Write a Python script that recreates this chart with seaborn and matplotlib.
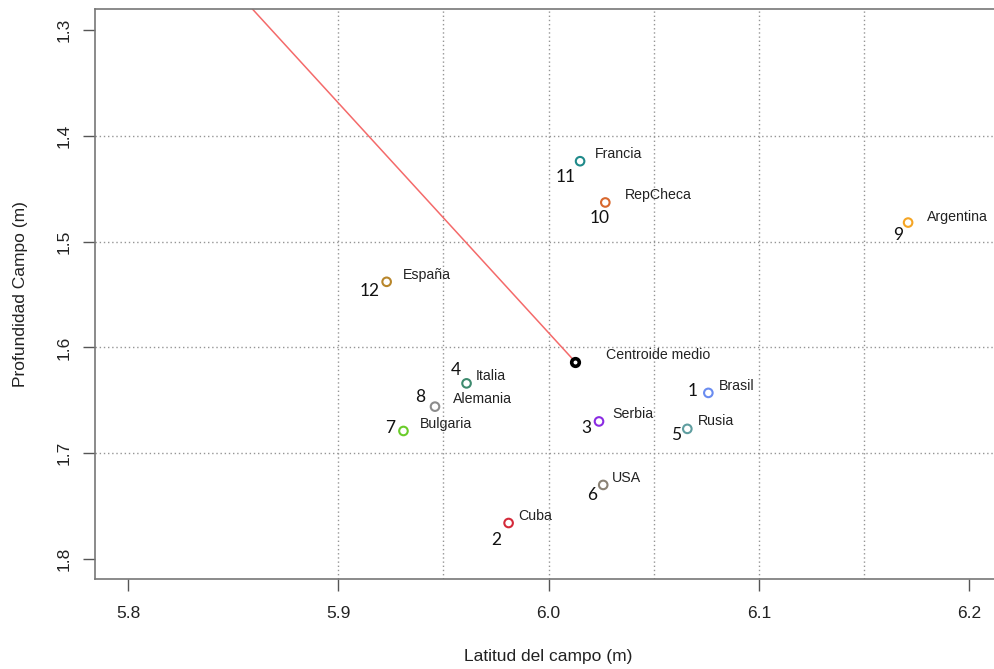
import pandas as pd
import seaborn as sns
import matplotlib.pyplot as plt

# datos
paises = ['Brasil', 'Cuba', 'Serbia', 'Italia', 'Rusia', 'USA',
          'Bulgaria', 'Alemania', 'Argentina', 'RepCheca', 'Francia', 'España']
numeros = ['1', '2', '3', '4', '5', '6', '7', '8', '9', '10', '11', '12']
latitud = [6.076, 5.981, 6.024, 5.961, 6.066, 6.026,
           5.931, 5.946, 6.171, 6.027, 6.015, 5.923]
profundidad = [1.643, 1.766, 1.670, 1.634, 1.677, 1.730,
               1.679, 1.656, 1.482, 1.463, 1.424, 1.538]
colores = ['#6a8cf0', '#d42a3a', '#8a2be2', '#3d8a6e', '#5f9ea0', '#8a8275',
           '#6acc2a', '#8c8c8c', '#f5a524', '#d8682e', '#1f8a8a', '#b8862b']

centroide_x = 6.0126
centroide_y = 1.6135
linea_x = [6.0126, 5.8453]
linea_y = [1.6135, 1.25]

# desplazamientos de las etiquetas (pixeles, y hacia abajo)
off_nombre = [(11, -7), (10, -7), (13, -7), (9, -7), (11, -8), (9, -7),
              (16, -7), (18, -8), (19, -6), (20, -7), (15, -7), (16, -7)]
off_numero = [(-16, -2), (-12, 17), (-13, 7), (-11, -13), (-11, 6), (-11, 10),
              (-13, -3), (-15, -10), (-10, 12), (-6, 16), (-14, 16), (-17, 9)]


def main():
    df = pd.DataFrame({'pais': paises, 'num': numeros,
                       'x': latitud, 'y': profundidad})

    sns.set_style('white')
    plt.rcParams['font.family'] = ['Liberation Sans', 'DejaVu Sans']

    fig = plt.figure(figsize=(9.95, 6.69), dpi=100)
    ax = fig.add_axes([0.0952, 0.1341, 0.9122, 0.852])

    for gx in [5.9, 5.95, 6.0, 6.05, 6.1, 6.15]:
        ax.axvline(gx, color='#959595', lw=1, ls=(0, (1, 2)), zorder=0)
    for gy in [1.4, 1.5, 1.6, 1.7]:
        ax.axhline(gy, color='#959595', lw=1, ls=(0, (1, 2)), zorder=0)

    ax.plot(linea_x, linea_y, color='#f46a6a', lw=1.1, zorder=1)

    sns.scatterplot(data=df, x='x', y='y', hue='pais',
                    palette=dict(zip(paises, colores)), s=38,
                    linewidth=1.5, legend=False, ax=ax, zorder=3)
    pts = ax.collections[0]
    pts.set_edgecolors(pts.get_facecolors())
    pts.set_facecolors('none')

    ax.scatter([centroide_x], [centroide_y], s=30, facecolors='#ffffff',
               edgecolors='black', linewidths=2.6, zorder=4)
    ax.annotate('Centroide medio', (centroide_x, centroide_y),
                xytext=(31, 7), textcoords='offset pixels',
                ha='left', va='center', fontsize=10.2, color='#222222')

    for i in range(len(paises)):
        dx, dy = off_nombre[i]
        ax.annotate(paises[i], (latitud[i], profundidad[i]),
                    xytext=(dx, -dy), textcoords='offset pixels',
                    ha='left', va='center', fontsize=10.2, color='#222222')
        dx, dy = off_numero[i]
        ax.annotate(numeros[i], (latitud[i], profundidad[i]),
                    xytext=(dx, -dy), textcoords='offset pixels',
                    ha='center', va='center', fontsize=12.5,
                    family=['Lato', 'DejaVu Sans'], color='#111111')

    ax.set_xlim(5.78417, 6.21583)
    ax.set_ylim(1.8192, 1.2804)
    ax.set_xticks([5.8, 5.9, 6.0, 6.1, 6.2])
    ax.set_xticklabels(['5.8', '5.9', '6.0', '6.1', '6.2'])
    ax.set_yticks([1.3, 1.4, 1.5, 1.6, 1.7, 1.8])
    ax.set_yticklabels(['1.3', '1.4', '1.5', '1.6', '1.7', '1.8'],
                       rotation=90, va='center')

    ax.tick_params(axis='both', direction='out', length=8.5, width=1,
                   color='#555555', labelsize=12.5, labelcolor='#222222',
                   pad=8, bottom=True, left=True)
    ax.tick_params(axis='x', pad=11)
    for sp in ax.spines.values():
        sp.set_color('#777777')
        sp.set_linewidth(1.2)

    ax.set_xlabel('Latitud del campo (m)', fontsize=12.5, color='#222222')
    ax.set_ylabel('Profundidad Campo (m)', fontsize=12.5, color='#222222')
    ax.xaxis.set_label_coords(0.5, -0.122)
    ax.yaxis.set_label_coords(-0.074, 0.5)

    fig.savefig('out.png', dpi=100)


if __name__ == '__main__':
    main()
